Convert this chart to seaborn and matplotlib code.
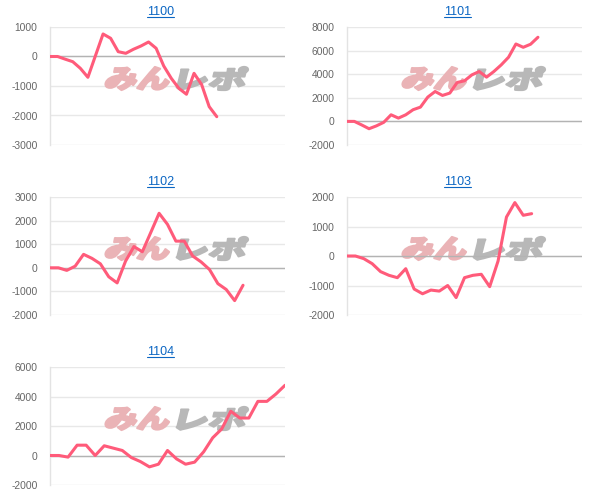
import numpy as np
import pandas as pd
import matplotlib
matplotlib.use("Agg")
import matplotlib.pyplot as plt
import seaborn as sns
from matplotlib.textpath import TextPath
from matplotlib.patches import PathPatch
from matplotlib.font_manager import FontProperties
from matplotlib.transforms import Affine2D, IdentityTransform
from matplotlib.lines import Line2D

# cumulative values per machine
s1100 = [0, 0, -90, -176, -400, -705, 30, 763, 617, 163, 108, 244, 356, 492, 278,
         -320, -740, -1080, -1280, -570, -950, -1700, -2040]
s1101 = [0, 0, -300, -620, -380, -80, 560, 280, 560, 990, 1210, 2060, 2535, 2200,
         2400, 3300, 3440, 3940, 4230, 3750, 4230, 4790, 5440, 6560, 6280, 6540, 7130]
s1102 = [0, 0, -110, 70, 570, 400, 170, -380, -640, 280, 900, 680, 1490, 2310,
         1840, 1130, 1130, 500, 250, -70, -670, -920, -1390, -740]
s1103 = [0, 0, -90, -260, -530, -655, -735, -430, -1120, -1280, -1155, -1190,
         -1000, -1410, -735, -655, -620, -1040, -170, 1320, 1810, 1380, 1435]
s1104 = [0, 0, -110, 700, 700, 0, 660, 500, 340, -140, -410, -770, -590, 340,
         -230, -590, -450, 250, 1200, 1800, 3000, 2540, 2540, 3670, 3670, 4170, 4760]

titles = ["1100", "1101", "1102", "1103", "1104"]
series = [s1100, s1101, s1102, s1103, s1104]
x_slots = [31, 32, 28, 28, 26]
y_ticks = [
    [-3000, -2000, -1000, 0, 1000],
    [-2000, 0, 2000, 4000, 6000, 8000],
    [-2000, -1000, 0, 1000, 2000, 3000],
    [-2000, -1000, 0, 1000, 2000],
    [-2000, 0, 2000, 4000, 6000],
]

sns.set_theme(style="white")
plt.rcParams["font.family"] = ["Liberation Sans", "DejaVu Sans"]
plt.rcParams["axes.unicode_minus"] = False

W, H = 608, 498
fig = plt.figure(figsize=(W / 100, H / 100), dpi=100)

# axes boxes in pixels: (left, top) ; size 235 x 118
boxes = [(50, 27), (347, 27), (50, 197), (347, 197), (50, 367)]
aw, ah = 235, 118

line_color = "#ff5b7a"
axes = []
for (lx, ty), t, s, n, ticks in zip(boxes, titles, series, x_slots, y_ticks):
    ax = fig.add_axes([lx / W, 1 - (ty + ah) / H, aw / W, ah / H])
    df = pd.DataFrame({"x": np.arange(len(s)), "y": s})
    sns.lineplot(data=df, x="x", y="y", ax=ax, color=line_color, linewidth=2.2, zorder=3)
    ax.set_xlim(0, n)
    ax.set_ylim(ticks[0], ticks[-1])
    ax.set_yticks(ticks)
    ax.set_yticklabels([str(v) for v in ticks])
    ax.set_xticks([])
    ax.set_xlabel("")
    ax.set_ylabel("")
    ax.grid(axis="y", color="#e8e8e8", linewidth=1)
    ax.axhline(0, color="#b3b3b3", linewidth=1, zorder=1.5)
    for sp in ["top", "right", "bottom"]:
        ax.spines[sp].set_visible(False)
    ax.spines["left"].set_color("#e3e3e3")
    ax.spines["left"].set_linewidth(1)
    ax.tick_params(axis="y", length=3, width=1, color="#e8e8e8", pad=6,
                   labelsize=7.4, labelcolor="#666666")
    txt = ax.text(0.472, 1 + 12 / ah, t, transform=ax.transAxes, ha="center",
                  va="baseline", fontsize=9, color="#0b66c3")
    axes.append((ax, txt, lx, ty))

# watermark logo, drawn as slanted text paths
fp = FontProperties(family="Noto Sans CJK JP", weight="black")


def logo_part(ax, s, color, bx, by, w, h):
    tp = TextPath((0, 0), s, size=100, prop=fp)
    ext = tp.get_extents()
    tr = (Affine2D().translate(-ext.x0, -ext.y0)
          .scale(w / ext.width, h / ext.height)
          .skew_deg(14, 0).translate(bx, by))
    patch = PathPatch(tp, transform=tr, facecolor=color, edgecolor=color,
                      linewidth=1.6, joinstyle="round", zorder=1)
    patch.set_clip_on(False)
    ax.add_patch(patch)


for ax, txt, lx, ty in axes:
    left = lx + 54
    bottom = H - (ty + 39 + 24)
    logo_part(ax, "みん", "#eab3b6", left, bottom, 63, 23)
    logo_part(ax, "レポ", "#b8b8b8", left + 72, bottom, 67, 23)

# underline the titles like links
fig.canvas.draw()
renderer = fig.canvas.get_renderer()
for ax, txt, lx, ty in axes:
    bb = txt.get_window_extent(renderer)
    base_y = H - (ty - 12) - 1.5
    fig.add_artist(Line2D([bb.x0, bb.x1], [base_y, base_y], transform=IdentityTransform(),
                          color="#0b66c3", linewidth=0.8))

fig.savefig("out.png", dpi=100)
